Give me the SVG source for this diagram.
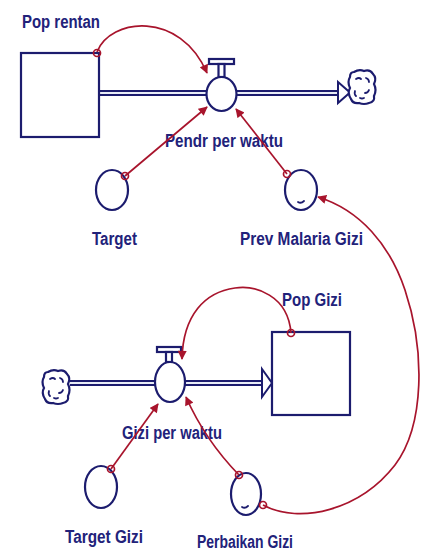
<svg xmlns="http://www.w3.org/2000/svg" width="423" height="553" viewBox="0 0 423 553">
  <style>
    .stock { fill: #ffffff; stroke: #1c1c6e; stroke-width: 2.2; }
    .aux { fill: #ffffff; stroke: #1c1c6e; stroke-width: 2.2; }
    .pipe-out { fill: none; stroke: #1c1c6e; stroke-width: 6; }
    .pipe-in { fill: none; stroke: #e8ecf6; stroke-width: 1.8; }
    .head { fill: #ffffff; stroke: #1c1c6e; stroke-width: 2; stroke-linejoin: miter; }
    .cloud { fill: #ffffff; stroke: #1c1c6e; stroke-width: 2.2; }
    .cloud-mark { fill: none; stroke: #1c1c6e; stroke-width: 1.8; stroke-linecap: round; }
    .link { fill: none; stroke: #a8142c; stroke-width: 1.7; }
    .tail { fill: none; stroke: #a8142c; stroke-width: 1.7; }
    .label { font-family: "Liberation Sans", Arial, sans-serif; font-size: 18px; font-weight: bold; fill: #22227a; }
  </style>
  <defs>
    <marker id="arrow" viewBox="0 0 10 10" refX="9" refY="5" markerWidth="10" markerHeight="9" markerUnits="userSpaceOnUse" orient="auto">
      <path d="M0,0 L10,5 L0,10 z" fill="#a8142c"/>
    </marker>
    <g id="cloudShape">
      <path class="cloud" d="M-8,-15 Q-3,-18 2,-16 Q8,-18 11,-13 Q15,-9 12,-3 Q15,3 12,9 Q13,15 7,16 Q2,18 -3,16 Q-9,17 -11,12 Q-15,6 -12,1 Q-15,-5 -12,-10 Q-12,-15 -8,-15 z"/>
      <path class="cloud-mark" d="M-6,-8 q3,-2 5,0 M4,-9 q3,1 3,4 M-7,4 q-1,3 1,5 M3,6 q3,0 4,-3 M-2,11 q2,1 4,0"/>
    </g>
  </defs>

  <!-- flow pipes -->
  <g id="pipes">
    <path class="pipe-out" d="M99,93 H340"/>
    <path class="pipe-in" d="M99,93 H340"/>
    <path class="pipe-out" d="M70,383 H263"/>
    <path class="pipe-in" d="M70,383 H263"/>
  </g>

  <!-- Pop rentan stock -->
  <g id="pop-rentan">
    <rect class="stock" x="21" y="53" width="78" height="84"/>
    <text class="label" x="22" y="28" textLength="78" lengthAdjust="spacingAndGlyphs">Pop rentan</text>
  </g>

  <!-- outflow sink -->
  <g id="sink-top">
    <path class="head" d="M338,82 L350,92.5 L338,103 z"/>
    <use href="#cloudShape" x="362" y="87"/>
  </g>

  <!-- Pendr per waktu valve -->
  <g id="pendr-per-waktu">
    <rect class="aux" x="209" y="59" width="25" height="5"/>
    <rect class="aux" x="218.5" y="64" width="6" height="13"/>
    <ellipse class="aux" cx="221.5" cy="94" rx="15" ry="17"/>
    <text class="label" x="165" y="147" textLength="118" lengthAdjust="spacingAndGlyphs">Pendr per waktu</text>
  </g>

  <!-- Target -->
  <g id="target">
    <ellipse class="aux" cx="112" cy="190" rx="16" ry="20"/>
    <text class="label" x="92" y="245" textLength="45" lengthAdjust="spacingAndGlyphs">Target</text>
  </g>

  <!-- Prev Malaria Gizi -->
  <g id="prev-malaria-gizi">
    <ellipse class="aux" cx="301" cy="190" rx="16" ry="20"/>
    <path class="cloud-mark" d="M298,202 q3,2 6,-1"/>
    <text class="label" x="240" y="245" textLength="123" lengthAdjust="spacingAndGlyphs">Prev Malaria Gizi</text>
  </g>

  <!-- source cloud -->
  <g id="source-bottom">
    <use href="#cloudShape" x="56" y="387"/>
  </g>

  <!-- Gizi per waktu valve -->
  <g id="gizi-per-waktu">
    <rect class="aux" x="157" y="347" width="24" height="5"/>
    <rect class="aux" x="166" y="352" width="6" height="10"/>
    <ellipse class="aux" cx="170" cy="382" rx="15" ry="20"/>
    <text class="label" x="122" y="439" textLength="100" lengthAdjust="spacingAndGlyphs">Gizi per waktu</text>
  </g>

  <!-- Pop Gizi stock -->
  <g id="pop-gizi">
    <path class="head" d="M262,369 L272,383 L262,397 z"/>
    <rect class="stock" x="272" y="332" width="78" height="83"/>
    <text class="label" x="282" y="306" textLength="60" lengthAdjust="spacingAndGlyphs">Pop Gizi</text>
  </g>

  <!-- Target Gizi -->
  <g id="target-gizi">
    <ellipse class="aux" cx="101" cy="487" rx="16" ry="21"/>
    <text class="label" x="65" y="543" textLength="78" lengthAdjust="spacingAndGlyphs">Target Gizi</text>
  </g>

  <!-- Perbaikan Gizi -->
  <g id="perbaikan-gizi">
    <ellipse class="aux" cx="246" cy="494" rx="15" ry="21"/>
    <path class="cloud-mark" d="M242,507 q3,2 6,-1"/>
    <text class="label" x="197" y="548" textLength="96" lengthAdjust="spacingAndGlyphs">Perbaikan Gizi</text>
  </g>

  <!-- information links -->
  <g id="connectors">
    <path class="link" marker-end="url(#arrow)" d="M97,52 C110,18 180,10 207,73"/>
    <path class="link" marker-end="url(#arrow)" d="M125,176 L207,107"/>
    <path class="link" marker-end="url(#arrow)" d="M287,174 L236,109"/>
    <path class="link" marker-end="url(#arrow)" d="M263,505 C300,525 360,510 395,465 C425,425 425,350 405,290 C390,245 360,210 318,197"/>
    <path class="link" marker-end="url(#arrow)" d="M291,333 C288,295 255,285 235,288 C205,292 183,315 182,359"/>
    <path class="link" marker-end="url(#arrow)" d="M111,469 L158,404"/>
    <path class="link" marker-end="url(#arrow)" d="M239,475 Q205,440 186,397"/>
    <circle class="tail" cx="97" cy="53" r="3.5"/>
    <circle class="tail" cx="125" cy="176" r="3.5"/>
    <circle class="tail" cx="287" cy="174" r="3.5"/>
    <circle class="tail" cx="263" cy="505" r="3.5"/>
    <circle class="tail" cx="291" cy="333" r="3.5"/>
    <circle class="tail" cx="111" cy="469" r="3.5"/>
    <circle class="tail" cx="239" cy="475" r="3.5"/>
  </g>
</svg>
